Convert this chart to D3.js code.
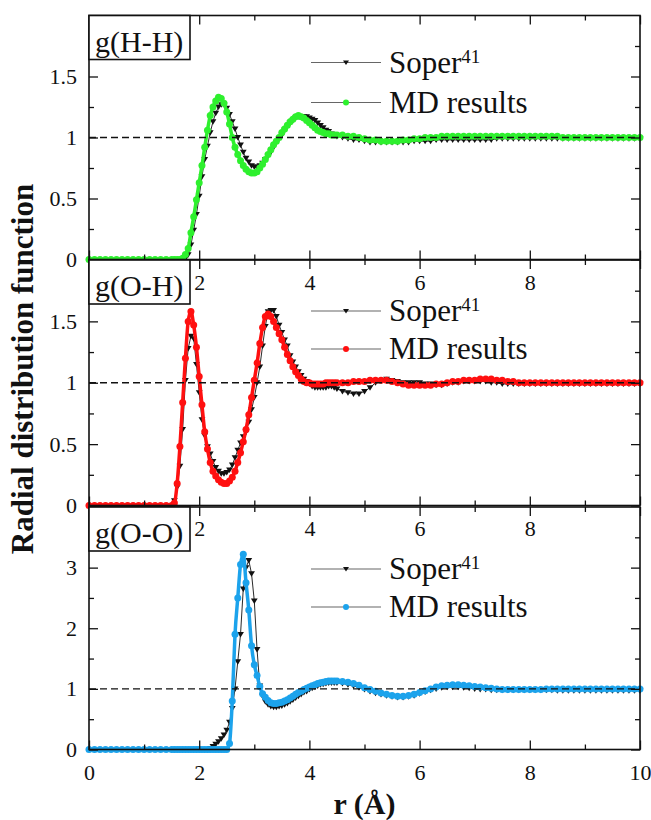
<!DOCTYPE html>
<html>
<head>
<meta charset="utf-8">
<script src="https://cdn.jsdelivr.net/npm/d3@7"></script>
<style>
  body { margin: 0; background: #fff; }
  svg { display: block; }
  svg text { font-family: "Liberation Serif", "Times New Roman", serif; }
</style>
</head>
<body>
<svg id="chart"></svg>
<script>
const WIDTH = 651;
const HEIGHT = 820;
const X_LEFT = 89;
const X_RIGHT = 640;
const SERIF = "'Liberation Serif', 'Times New Roman', serif";

// r grid (Angstrom) shared by every series
const R = [
  0, 0.1, 0.2, 0.3, 0.4, 0.5, 0.6, 0.7, 0.8, 0.9, 1, 1.1, 1.2, 1.3, 1.4,
  1.5, 1.55, 1.6, 1.65, 1.7, 1.75, 1.8, 1.85, 1.9, 1.95,
  2, 2.05, 2.1, 2.15, 2.2, 2.25, 2.3, 2.35, 2.4, 2.45,
  2.5, 2.55, 2.6, 2.65, 2.7, 2.75, 2.8, 2.85, 2.9, 2.95,
  3, 3.05, 3.1, 3.15, 3.2, 3.25, 3.3, 3.35, 3.4, 3.45,
  3.5, 3.55, 3.6, 3.65, 3.7, 3.75, 3.8, 3.85, 3.9, 3.95,
  4, 4.05, 4.1, 4.15, 4.2, 4.25, 4.3, 4.35, 4.4, 4.45,
  4.5, 4.6, 4.7, 4.8, 4.9,
  5, 5.1, 5.2, 5.3, 5.4, 5.5, 5.6, 5.7, 5.8, 5.9,
  6, 6.1, 6.2, 6.3, 6.4, 6.5, 6.6, 6.7, 6.8, 6.9,
  7, 7.1, 7.2, 7.3, 7.4, 7.5, 7.6, 7.7, 7.8, 7.9,
  8, 8.1, 8.2, 8.3, 8.4, 8.5, 8.6, 8.7, 8.8, 8.9,
  9, 9.1, 9.2, 9.3, 9.4, 9.5, 9.6, 9.7, 9.8, 9.9,
  10
];

const hhMD = [
  0, 0, 0, 0, 0, 0, 0, 0, 0, 0, 0, 0, 0, 0, 0,
  0, 0, 0, 0, 0.01, 0.04, 0.09, 0.22, 0.35, 0.49,
  0.63, 0.77, 0.92, 1.06, 1.18, 1.25, 1.30, 1.33, 1.32, 1.28,
  1.21, 1.11, 1.00, 0.92, 0.86, 0.81, 0.77, 0.74, 0.72, 0.71,
  0.71, 0.72, 0.75, 0.78, 0.82, 0.86, 0.90, 0.94, 0.97, 1.00,
  1.04, 1.07, 1.10, 1.13, 1.15, 1.17, 1.18, 1.17, 1.16, 1.14,
  1.12, 1.10, 1.08, 1.06, 1.05, 1.04, 1.03, 1.03, 1.02, 1.02,
  1.02, 1.02, 1.01, 1.01, 1.00,
  0.99, 0.98, 0.98, 0.97, 0.97, 0.97, 0.97, 0.98, 0.98, 0.99,
  0.99, 1.00, 1.00, 1.00, 1.01, 1.01, 1.01, 1.01, 1.01, 1.01,
  1.01, 1.01, 1.01, 1.01, 1.01, 1.01, 1.01, 1.01, 1.01, 1.01,
  1.01, 1.01, 1.01, 1.01, 1.01, 1.01, 1.00, 1.00, 1.00, 1.00,
  1.00, 1.00, 1.00, 1.00, 1.00, 1.00, 1.00, 1.00, 1.00, 1.00,
  1.00
];

const hhSoper = [
  null, null, null, null, null, null, null, null, null, null, null, null, null, null, null,
  0, 0, 0, 0, 0, 0.01, 0.04, 0.12, 0.24, 0.37,
  0.52, 0.68, 0.82, 0.93, 1.04, 1.13, 1.20, 1.25, 1.27, 1.27,
  1.24, 1.19, 1.13, 1.07, 1.00, 0.94, 0.88, 0.83, 0.80, 0.77,
  0.76, 0.76, 0.77, 0.79, 0.82, 0.85, 0.88, 0.92, 0.96, 0.99,
  1.02, 1.06, 1.09, 1.12, 1.14, 1.16, 1.17, 1.17, 1.17, 1.17,
  1.16, 1.15, 1.14, 1.12, 1.10, 1.08, 1.06, 1.05, 1.03, 1.02,
  1.01, 1.00, 0.99, 0.98, 0.98,
  0.97, 0.96, 0.96, 0.96, 0.96, 0.96, 0.96, 0.96, 0.96, 0.97,
  0.97, 0.97, 0.97, 0.98, 0.98, 0.98, 0.98, 0.98, 0.98, 0.98,
  0.98, 0.98, 0.98, 0.98, 0.99, 0.99, 0.99, 0.99, 0.99, 0.99,
  0.99, 0.99, 0.99, 0.99, 0.99, 0.99, 0.99, 0.99, 0.99, 0.99,
  0.99, 0.99, 0.99, 0.99, 0.99, 0.99, 0.99, 0.99, 0.99, 0.99,
  0.99
];

const ohMD = [
  0, 0, 0, 0, 0, 0, 0, 0, 0, 0, 0, 0, 0, 0, 0,
  0, 0.02, 0.18, 0.48, 0.84, 1.20, 1.50, 1.58, 1.47, 1.29,
  1.05, 0.82, 0.60, 0.46, 0.35, 0.28, 0.24, 0.21, 0.19, 0.18,
  0.18, 0.20, 0.23, 0.28, 0.35, 0.43, 0.52, 0.62, 0.74, 0.88,
  1.02, 1.16, 1.32, 1.45, 1.54, 1.56, 1.54, 1.50, 1.45, 1.40,
  1.35, 1.29, 1.23, 1.18, 1.13, 1.09, 1.06, 1.03, 1.01, 1.00,
  1.00, 0.99, 0.99, 0.99, 0.99, 0.99, 1.00, 1.00, 1.00, 1.00,
  1.00, 1.00, 1.00, 1.01, 1.01,
  1.01, 1.02, 1.02, 1.02, 1.02, 1.01, 1.00, 0.99, 0.98, 0.98,
  0.98, 0.98, 0.98, 0.99, 0.99, 1.00, 1.01, 1.01, 1.02, 1.02,
  1.02, 1.03, 1.03, 1.03, 1.02, 1.02, 1.01, 1.01, 1.00, 1.00,
  1.00, 1.00, 1.00, 1.00, 1.00, 1.00, 1.00, 1.00, 1.00, 1.00,
  1.00, 1.00, 1.00, 1.00, 1.00, 1.00, 1.00, 1.00, 1.00, 1.00,
  1.00
];

const ohSoper = [
  null, null, null, null, null, null, null, null, null, null, null, null, null, null, null,
  0, 0.04, 0.15, 0.32, 0.62, 1.02, 1.28, 1.38, 1.36, 1.15,
  0.92, 0.70, 0.57, 0.48, 0.42, 0.36, 0.31, 0.28, 0.26, 0.26,
  0.27, 0.29, 0.33, 0.39, 0.45, 0.51, 0.56, 0.60, 0.68, 0.78,
  0.88, 1.00, 1.13, 1.30, 1.46, 1.58, 1.59, 1.59, 1.54, 1.47,
  1.41, 1.35, 1.30, 1.22, 1.17, 1.13, 1.09, 1.06, 1.03, 1.01,
  0.99, 0.97, 0.96, 0.96, 0.96, 0.96, 0.96, 0.97, 0.97, 0.96,
  0.95, 0.93, 0.92, 0.91, 0.91,
  0.93, 0.96, 1.00, 1.02, 1.03, 1.02, 1.01, 1.00, 1.00, 1.00,
  1.00, 0.99, 0.99, 0.98, 0.98, 0.99, 1.00, 1.00, 1.01, 1.01,
  1.01, 1.01, 1.01, 1.00, 1.00, 0.99, 0.99, 0.99, 0.99, 0.99,
  0.99, 0.99, 0.99, 0.99, 0.99, 0.99, 0.99, 0.99, 0.99, 0.99,
  0.99, 0.99, 0.99, 0.99, 0.99, 0.99, 0.99, 0.99, 0.99, 0.99,
  0.99
];

const ooMD = [
  0, 0, 0, 0, 0, 0, 0, 0, 0, 0, 0, 0, 0, 0, 0,
  0, 0, 0, 0, 0, 0, 0, 0, 0, 0,
  0, 0, 0, 0, 0, 0, 0, 0, 0, 0,
  0, 0.10, 0.80, 1.90, 2.50, 3.05, 3.22, 2.75, 2.30, 1.71,
  1.40, 1.22, 1.04, 0.92, 0.86, 0.81, 0.77, 0.76, 0.76, 0.77,
  0.78, 0.80, 0.82, 0.85, 0.88, 0.91, 0.94, 0.96, 0.99, 1.01,
  1.03, 1.05, 1.07, 1.09, 1.10, 1.11, 1.12, 1.13, 1.13, 1.13,
  1.13, 1.12, 1.11, 1.09, 1.06,
  1.02, 0.99, 0.96, 0.93, 0.91, 0.89, 0.88, 0.88, 0.89, 0.91,
  0.94, 0.97, 1.00, 1.03, 1.05, 1.06, 1.07, 1.07, 1.06, 1.05,
  1.04, 1.03, 1.02, 1.01, 1.00, 0.99, 0.99, 0.99, 0.99, 0.99,
  0.99, 0.99, 0.99, 1.00, 1.00, 1.00, 1.00, 1.00, 1.00, 1.00,
  1.00, 1.00, 1.00, 1.00, 1.00, 1.00, 1.00, 1.00, 1.00, 1.00,
  1.00
];

const ooSoper = [
  null, null, null, null, null, null, null, null, null, null, null, null, null, null, null,
  0, 0, 0, 0, 0, 0, 0, 0, 0, 0,
  0, 0, 0, 0, 0.02, 0.05, 0.09, 0.13, 0.18, 0.24,
  0.32, 0.45, 0.68, 1.00, 1.45, 1.90, 2.65, 3.00, 3.12, 2.90,
  2.45, 1.65, 1.05, 0.88, 0.79, 0.74, 0.71, 0.70, 0.70, 0.71,
  0.72, 0.74, 0.76, 0.79, 0.82, 0.85, 0.88, 0.91, 0.94, 0.96,
  0.99, 1.01, 1.03, 1.05, 1.07, 1.08, 1.09, 1.10, 1.10, 1.10,
  1.10, 1.09, 1.07, 1.05, 1.02,
  0.99, 0.96, 0.93, 0.91, 0.89, 0.87, 0.86, 0.86, 0.87, 0.89,
  0.92, 0.95, 0.98, 1.00, 1.02, 1.03, 1.03, 1.03, 1.02, 1.01,
  1.00, 0.99, 0.99, 0.98, 0.98, 0.98, 0.98, 0.98, 0.98, 0.98,
  0.98, 0.98, 0.98, 0.98, 0.98, 0.97, 0.97, 0.97, 0.97, 0.97,
  0.97, 0.97, 0.97, 0.97, 0.97, 0.97, 0.97, 0.97, 0.97, 0.97,
  0.97
];

const PANEL_LABELS = ["g(H-H)", "g(O-H)", "g(O-O)"];
const MD_COLORS = ["#2ef02e", "#ff1010", "#1ca3ec"];
const Y_MAX = [2, 2, 4];
const Y_MAJOR = [[0, 0.5, 1, 1.5], [0, 0.5, 1, 1.5], [0, 1, 2, 3]];
const Y_MINOR = [[0.25, 0.75, 1.25, 1.75], [0.25, 0.75, 1.25, 1.75], [0.5, 1.5, 2.5, 3.5]];
const X_MAJOR = [0, 2, 4, 6, 8, 10];
const X_MINOR = [1, 3, 5, 7, 9];
const LEGEND_LABELS = ["Soper", "MD results"];

const PANEL_BOX = [
  { top: 15.5, bottom: 259.5, legend: [47, 87] },
  { top: 260, bottom: 505.5, legend: [51, 89] },
  { top: 507, bottom: 749.5, legend: [62, 100] }
];

const SERIES = [
  { soper: hhSoper, md: hhMD },
  { soper: ohSoper, md: ohMD },
  { soper: ooSoper, md: ooMD }
];

const TRIANGLE = "M-3.4,-2.4L3.4,-2.4L0,3.1Z";
const DOT_R = 3.5;

const $svg = d3.select("#chart").attr("width", WIDTH).attr("height", HEIGHT);

const x = d3.scaleLinear().domain([0, 10]).range([X_LEFT, X_RIGHT]);

function toPoints(values) {
  return R.map((r, i) => ({ r: r, g: values[i] })).filter(d => d.g != null);
}

function styleAxis(g) {
  g.select(".domain").remove();
  g.selectAll(".tick line").attr("stroke", "#111").attr("stroke-width", 1.3);
  g.selectAll(".tick text")
    .attr("fill", "#111")
    .style("font-size", "22px")
    .style("font-family", SERIF);
}

function drawPanel(i) {
  const box = PANEL_BOX[i];
  const y = d3.scaleLinear().domain([0, Y_MAX[i]]).range([box.bottom, box.top]);
  const $g = $svg.append("g");

  const soperPts = toPoints(SERIES[i].soper);
  const mdPts = toPoints(SERIES[i].md);
  const line = d3.line().x(d => x(d.r)).y(d => y(d.g));
  const smooth = d3.line().x(d => x(d.r)).y(d => y(d.g)).curve(d3.curveMonotoneX);

  // Soper: thin black line with down triangles
  $g.append("path")
    .datum(soperPts)
    .attr("d", line)
    .attr("fill", "none")
    .attr("stroke", "#111")
    .attr("stroke-width", 0.9);

  $g.selectAll(".tri")
    .data(soperPts)
    .enter()
    .append("path")
    .attr("class", "tri")
    .attr("d", TRIANGLE)
    .attr("transform", d => `translate(${x(d.r)},${y(d.g)})`)
    .attr("fill", "#111");

  // MD results: coloured dots on a narrower band of the same colour
  $g.append("path")
    .datum(mdPts)
    .attr("d", smooth)
    .attr("fill", "none")
    .attr("stroke", MD_COLORS[i])
    .attr("stroke-width", 3.5)
    .attr("stroke-linejoin", "round")
    .attr("stroke-linecap", "round");

  $g.selectAll(".dot")
    .data(mdPts)
    .enter()
    .append("circle")
    .attr("class", "dot")
    .attr("cx", d => x(d.r))
    .attr("cy", d => y(d.g))
    .attr("r", DOT_R)
    .attr("fill", MD_COLORS[i]);

  // reference line at g = 1
  $g.append("line")
    .attr("x1", x(0)).attr("x2", x(10))
    .attr("y1", y(1)).attr("y2", y(1))
    .attr("stroke", "#111")
    .attr("stroke-width", 1.4)
    .attr("stroke-dasharray", "7,4");

  // ticks, all pointing inward
  const xLabels = i === 2 ? X_MAJOR : [2, 4, 6, 8];
  $g.append("g")
    .attr("transform", `translate(0,${box.bottom})`)
    .call(d3.axisBottom(x).tickValues(X_MAJOR).tickSize(-9).tickPadding(15)
      .tickFormat(d => (xLabels.includes(d) ? d : "")))
    .call(styleAxis);
  $g.append("g")
    .attr("transform", `translate(0,${box.bottom})`)
    .call(d3.axisBottom(x).tickValues(X_MINOR).tickSize(-5).tickFormat(""))
    .call(styleAxis);
  $g.append("g")
    .attr("transform", `translate(0,${box.top})`)
    .call(d3.axisTop(x).tickValues(X_MAJOR).tickSize(-9).tickFormat(""))
    .call(styleAxis);
  $g.append("g")
    .attr("transform", `translate(0,${box.top})`)
    .call(d3.axisTop(x).tickValues(X_MINOR).tickSize(-5).tickFormat(""))
    .call(styleAxis);

  $g.append("g")
    .attr("transform", `translate(${X_LEFT},0)`)
    .call(d3.axisLeft(y).tickValues(Y_MAJOR[i]).tickSize(-9).tickPadding(12)
      .tickFormat(d3.format("~g")))
    .call(styleAxis);
  $g.append("g")
    .attr("transform", `translate(${X_LEFT},0)`)
    .call(d3.axisLeft(y).tickValues(Y_MINOR[i]).tickSize(-5).tickFormat(""))
    .call(styleAxis);
  $g.append("g")
    .attr("transform", `translate(${X_RIGHT},0)`)
    .call(d3.axisRight(y).tickValues(Y_MAJOR[i]).tickSize(-9).tickFormat(""))
    .call(styleAxis);
  $g.append("g")
    .attr("transform", `translate(${X_RIGHT},0)`)
    .call(d3.axisRight(y).tickValues(Y_MINOR[i]).tickSize(-5).tickFormat(""))
    .call(styleAxis);

  // frame
  $g.append("rect")
    .attr("x", X_LEFT).attr("y", box.top)
    .attr("width", X_RIGHT - X_LEFT).attr("height", box.bottom - box.top)
    .attr("fill", "none")
    .attr("stroke", "#111")
    .attr("stroke-width", 1.6);

  // panel label box
  $g.append("rect")
    .attr("x", X_LEFT).attr("y", box.top)
    .attr("width", 101).attr("height", 44)
    .attr("fill", "#fff")
    .attr("stroke", "#111")
    .attr("stroke-width", 1.6);
  $g.append("text")
    .attr("x", X_LEFT + 6).attr("y", box.top + 36)
    .attr("font-family", SERIF)
    .attr("font-size", 30)
    .attr("fill", "#111")
    .text(PANEL_LABELS[i]);

  // legend
  box.legend.forEach((dy, k) => {
    const ly = box.top + dy;
    $g.append("line")
      .attr("x1", 311).attr("x2", 381)
      .attr("y1", ly).attr("y2", ly)
      .attr("stroke", "#666")
      .attr("stroke-width", 1.1);
    const t = $g.append("text")
      .attr("x", 389).attr("y", ly + 10)
      .attr("font-family", SERIF)
      .attr("font-size", 31)
      .attr("fill", "#111");
    if (k === 0) {
      $g.append("path")
        .attr("d", "M-3,-2L3,-2L0,2.6Z")
        .attr("transform", `translate(346,${ly})`)
        .attr("fill", "#111");
      t.append("tspan").text(LEGEND_LABELS[0]);
      t.append("tspan").attr("font-size", 19).attr("dy", -10).text("41");
    } else {
      $g.append("circle")
        .attr("cx", 346).attr("cy", ly)
        .attr("r", 3)
        .attr("fill", MD_COLORS[i]);
      t.text(LEGEND_LABELS[1]);
    }
  });
}

[0, 1, 2].forEach(drawPanel);

// axis titles
$svg.append("text")
  .attr("transform", "translate(33,369) rotate(-90)")
  .attr("text-anchor", "middle")
  .attr("font-family", SERIF)
  .attr("font-size", 31)
  .attr("font-weight", "bold")
  .attr("fill", "#111")
  .text("Radial distribution function");

$svg.append("text")
  .attr("x", (X_LEFT + X_RIGHT) / 2)
  .attr("y", 814)
  .attr("text-anchor", "middle")
  .attr("font-family", SERIF)
  .attr("font-size", 30)
  .attr("font-weight", "bold")
  .attr("fill", "#111")
  .text("r (Å)");
</script>
</body>
</html>
